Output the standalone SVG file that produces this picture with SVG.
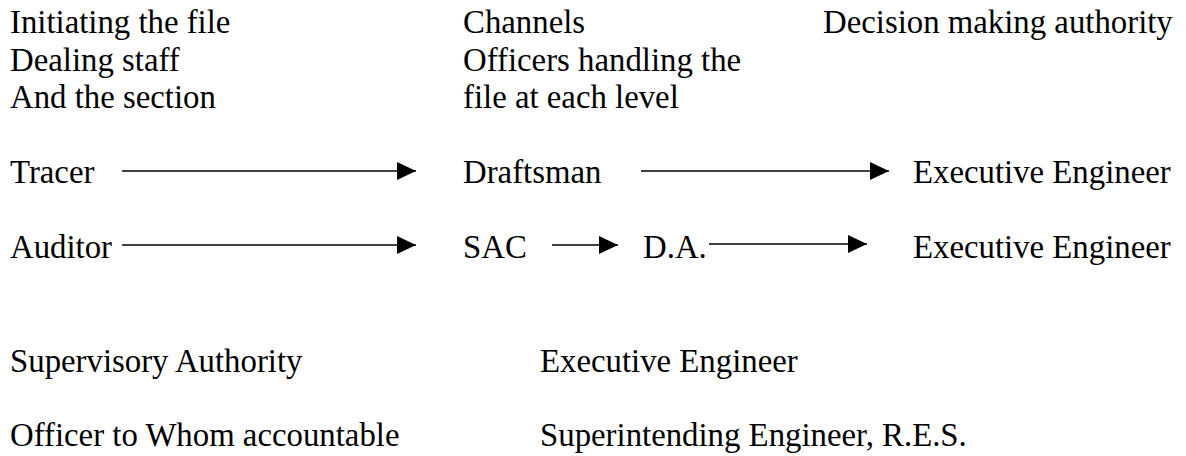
<svg xmlns="http://www.w3.org/2000/svg" width="1186" height="456" viewBox="0 0 1186 456">
<style>
text{font-family:'Liberation Serif','Times New Roman',serif;font-size:32.8px;fill:#000}
.ln{stroke:#000;stroke-width:1.6;fill:none}
</style>
<defs>
<marker id="ah" markerUnits="userSpaceOnUse" markerWidth="19" markerHeight="18" refX="19" refY="9" orient="auto">
<path d="M0,0 L19,9 L0,18 Z" fill="#000"/>
</marker>
</defs>
<rect width="1186" height="456" fill="#fff"/>
<g id="header-initiating">
<text x="10" y="33">Initiating the file</text>
<text x="10" y="71">Dealing staff</text>
<text x="10" y="108">And the section</text>
</g>
<g id="header-channels">
<text x="463" y="33">Channels</text>
<text x="463" y="71">Officers handling the</text>
<text x="463" y="108">file at each level</text>
</g>
<g id="header-decision">
<text x="823" y="33">Decision making authority</text>
</g>
<g id="node-tracer"><text x="10" y="183">Tracer</text></g>
<g id="node-draftsman"><text x="463" y="183">Draftsman</text></g>
<g id="node-ee1"><text x="913" y="183">Executive Engineer</text></g>
<g id="node-auditor"><text x="10" y="258">Auditor</text></g>
<g id="node-sac"><text x="463" y="258">SAC</text></g>
<g id="node-da"><text x="643" y="258">D.A.</text></g>
<g id="node-ee2"><text x="913" y="258">Executive Engineer</text></g>
<g id="footer">
<text x="10" y="372">Supervisory Authority</text>
<text x="540" y="372">Executive Engineer</text>
<text x="10" y="446">Officer to Whom accountable</text>
<text x="540" y="446">Superintending Engineer, R.E.S.</text>
</g>
<g id="connectors">
<line class="ln" x1="122" y1="171" x2="416" y2="171" marker-end="url(#ah)"/>
<line class="ln" x1="641" y1="171" x2="889" y2="171" marker-end="url(#ah)"/>
<line class="ln" x1="122" y1="245" x2="416" y2="245" marker-end="url(#ah)"/>
<line class="ln" x1="552" y1="245" x2="618" y2="245" marker-end="url(#ah)"/>
<line class="ln" x1="709" y1="244" x2="867" y2="244" marker-end="url(#ah)"/>
</g>
</svg>
